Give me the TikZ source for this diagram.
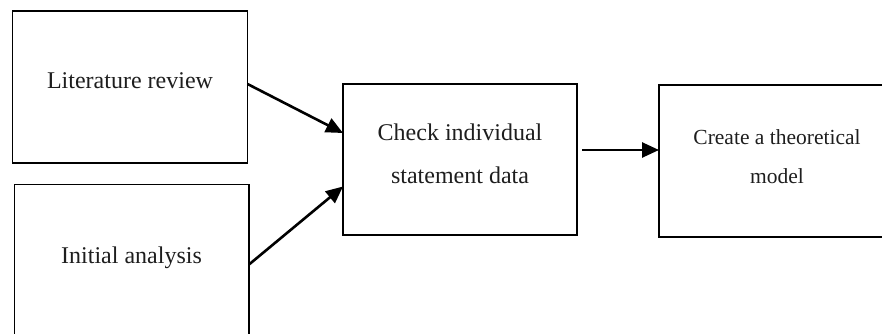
\documentclass[tikz,border=0pt]{standalone}
\usepackage{fontspec}
\setmainfont{Liberation Serif}
\usetikzlibrary{arrows.meta,calc}
\definecolor{ink}{HTML}{1E1E1E}
\tikzset{
  box/.style={draw=black, line width=1.8pt, inner sep=0pt, outer sep=0pt},
  txt/.style={anchor=base, inner sep=0pt, text=ink, font=\fontsize{24}{28}\selectfont},
  txtsmall/.style={anchor=base, inner sep=0pt, text=ink, font=\fontsize{21.5}{26}\selectfont},
  flow/.style={line width=2.6pt, -{Triangle[length=17pt,width=15pt]}}
}
\begin{document}
\begin{tikzpicture}[x=1pt,y=-1pt]
  \useasboundingbox (0,0) rectangle (882,334);
  \clip (0,0) rectangle (882,334);

  % boxes
  \node[box, minimum width=235pt, minimum height=152pt] (lit) at (130,87) {};
  \node[box, minimum width=234.5pt, minimum height=160pt] (ini) at (131.75,264.5) {};
  \node[box, minimum width=234pt, minimum height=151pt] (chk) at (460,159.5) {};
  \node[box, minimum width=236pt, minimum height=152pt] (mdl) at (777,161) {};

  % labels
  \node[txt] (litT) at (130,89) {Literature review};
  \node[txt] (iniT) at (131.5,263) {Initial analysis};
  \node[txt] (chkT1) at (460,140) {Check individual};
  \node[txt] (chkT2) at (460,183) {statement data};
  \node[txtsmall] (mdlT1) at (777,144) {Create a theoretical};
  \node[txtsmall] (mdlT2) at (777,183) {model};

  % connectors
  \draw[flow] ($(lit.east)+(0,-3)$) -- ($(chk.west)+(0,-26.5)$);
  \draw[flow] (ini.east) -- ($(chk.west)+(0,27)$);
  \draw[flow] ($(chk.east)+(5,-9.5)$) -- ($(mdl.west)+(0,-11)$);
\end{tikzpicture}
\end{document}
